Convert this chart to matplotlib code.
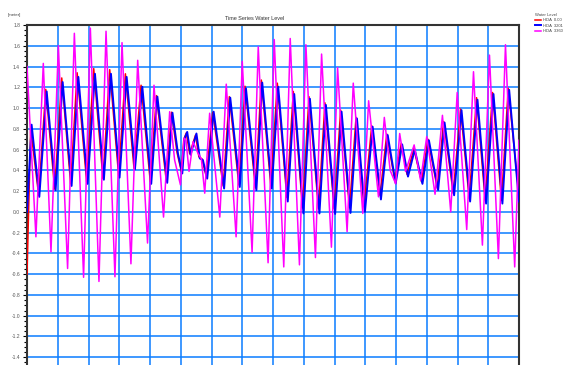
import matplotlib
matplotlib.use("Agg")
import matplotlib.pyplot as plt
from matplotlib.ticker import MultipleLocator, FixedLocator, FormatStrFormatter

plt.rcParams['font.family'] = ['Liberation Sans', 'DejaVu Sans']

# time in days, water level in meters (peaks / troughs)
red_t = [0.00, 0.12, 0.38, 0.61, 0.90, 1.13, 1.42, 1.63, 1.94, 2.17, 2.47, 2.69, 2.98, 3.20,
         3.48, 3.71, 4.01, 4.21, 4.53, 4.70, 4.88, 5.02, 5.10, 5.18, 5.29, 5.48, 5.59, 5.69,
         5.83, 6.04, 6.38, 6.58, 6.89, 7.09, 7.43, 7.62, 7.93, 8.14, 8.45, 8.66, 8.96, 9.17,
         9.48, 9.69, 9.99, 10.20, 10.49, 10.70, 10.96, 11.21, 11.48, 11.70, 11.96, 12.17,
         12.36, 12.58, 12.83, 13.04, 13.34, 13.55, 13.86, 14.10, 14.38, 14.62, 14.90, 15.14,
         15.43, 15.65, 16.00]
red_v = [-0.60, 0.80, 0.16, 1.18, 0.22, 1.29, 0.27, 1.34, 0.29, 1.38, 0.32, 1.37, 0.35, 1.33,
         0.42, 1.22, 0.29, 1.12, 0.30, 0.96, 0.57, 0.39, 0.70, 0.76, 0.56, 0.74, 0.53, 0.51,
         0.34, 0.96, 0.25, 1.11, 0.26, 1.21, 0.23, 1.27, 0.25, 1.24, 0.14, 1.16, 0.04, 1.11,
         0.03, 1.05, 0.03, 0.98, 0.04, 0.91, 0.05, 0.83, 0.16, 0.75, 0.30, 0.66,
         0.36, 0.61, 0.29, 0.70, 0.23, 0.87, 0.18, 0.99, 0.13, 1.10, 0.11, 1.15,
         0.11, 1.19, 0.15]

blue_t = [0.00, 0.15, 0.40, 0.64, 0.93, 1.16, 1.45, 1.67, 1.97, 2.21, 2.50, 2.73, 3.01, 3.24,
          3.51, 3.75, 4.04, 4.24, 4.56, 4.73, 4.91, 5.05, 5.13, 5.21, 5.32, 5.51, 5.62, 5.72,
          5.86, 6.07, 6.41, 6.61, 6.92, 7.12, 7.46, 7.65, 7.96, 8.17, 8.48, 8.69, 8.99, 9.20,
          9.51, 9.72, 10.02, 10.23, 10.52, 10.73, 10.99, 11.24, 11.51, 11.73, 11.99, 12.20,
          12.39, 12.61, 12.86, 13.07, 13.37, 13.58, 13.89, 14.13, 14.41, 14.65, 14.93, 15.17,
          15.46, 15.68, 16.00]
blue_v = [0.00, 0.84, 0.145, 1.16, 0.21, 1.25, 0.25, 1.30, 0.27, 1.33, 0.31, 1.33, 0.33, 1.30,
          0.41, 1.205, 0.27, 1.11, 0.28, 0.955, 0.56, 0.37, 0.71, 0.77, 0.55, 0.755, 0.515, 0.50,
          0.32, 0.965, 0.225, 1.10, 0.24, 1.19, 0.21, 1.245, 0.225, 1.205, 0.10, 1.135, -0.015, 1.09,
          -0.015, 1.03, -0.02, 0.965, -0.01, 0.90, 0.00, 0.82, 0.12, 0.74, 0.275, 0.65,
          0.34, 0.60, 0.27, 0.69, 0.21, 0.86, 0.16, 0.98, 0.10, 1.08, 0.08, 1.135,
          0.08, 1.175, 0.10]

mag_t = [0.00, 0.29, 0.53, 0.78, 1.02, 1.32, 1.54, 1.84, 2.06, 2.34, 2.57, 2.86, 3.09, 3.38,
         3.60, 3.92, 4.13, 4.44, 4.64, 4.80, 4.99, 5.11, 5.17, 5.27, 5.40, 5.56, 5.67, 5.78,
         5.94, 6.27, 6.48, 6.80, 7.00, 7.32, 7.52, 7.84, 8.04, 8.35, 8.56, 8.86, 9.07, 9.38,
         9.58, 9.90, 10.10, 10.41, 10.61, 10.92, 11.11, 11.43, 11.62, 11.81, 11.99, 12.12,
         12.31, 12.59, 12.80, 13.00, 13.27, 13.51, 13.78, 13.99, 14.30, 14.52, 14.81, 15.04,
         15.33, 15.56, 15.86, 16.00]
mag_v = [1.40, -0.24, 1.43, -0.385, 1.60, -0.545, 1.72, -0.63, 1.77, -0.67, 1.74, -0.625, 1.63, -0.50,
         1.46, -0.30, 1.22, -0.05, 0.965, 0.50, 0.26, 0.71, 0.69, 0.39, 0.675, 0.565, 0.51, 0.18,
         0.95, -0.05, 1.23, -0.24, 1.45, -0.39, 1.59, -0.49, 1.66, -0.53, 1.67, -0.51, 1.61, -0.44,
         1.52, -0.34, 1.39, -0.19, 1.24, -0.015, 1.07, 0.145, 0.91, 0.40, 0.27, 0.755,
         0.39, 0.645, 0.305, 0.725, 0.17, 0.93, 0.00, 1.15, -0.17, 1.35, -0.32, 1.51,
         -0.45, 1.61, -0.53, 0.69]

labels = ["HDA  0.00", "HDA  3201", "HDA  3360"]
colors = ["#ff0000", "#0000ff", "#ff00ff"]
y_ticks = [-1.4, -1.2, -1.0, -0.8, -0.6, -0.4, -0.2, 0.0, 0.2, 0.4, 0.6, 0.8,
           1.0, 1.2, 1.4, 1.6, 1.8]

W, H = 564, 365
fig = plt.figure(figsize=(W / 100, H / 100), dpi=100)
# axes runs past the bottom edge of the picture (x labels are cut off)
ax = fig.add_axes([27 / W, 1 - 378 / H, (519 - 27) / W, (378 - 25) / H])

ax.plot(red_t, red_v, color=colors[0], lw=1.1, label=labels[0], zorder=3)
ax.plot(blue_t, blue_v, color=colors[1], lw=1.4, label=labels[1], zorder=4)
ax.plot(mag_t, mag_v, color=colors[2], lw=1.1, label=labels[2], zorder=5)

ax.set_xlim(0, 16)
ax.set_ylim(-1.6, 1.8)
ax.xaxis.set_major_locator(MultipleLocator(1))
ax.yaxis.set_major_locator(FixedLocator(y_ticks))
ax.yaxis.set_minor_locator(MultipleLocator(0.05))
ax.yaxis.set_major_formatter(FormatStrFormatter('%.1f'))
ax.grid(True, which='major', color='#0a7cff', lw=1.1, zorder=1)
ax.axhline(-1.6, color='#0a7cff', lw=1.1, zorder=1)
ax.tick_params(axis='x', labelbottom=False, length=0)
ax.tick_params(axis='y', which='major', length=3, width=0.8, labelsize=3.6,
               labelcolor='#555555', pad=2)
ax.tick_params(axis='y', which='minor', length=2, width=0.8)

for side in ['left', 'top', 'right']:
    ax.spines[side].set_color('#333333')
    ax.spines[side].set_linewidth(1.5)
ax.spines['bottom'].set_visible(False)

fig.text(8 / W, 1 - 15 / H, "[meter]", fontsize=3.2, color='#444444', va='center')
fig.text(255 / W, 1 - 18 / H, "Time Series Water Level", fontsize=4.0,
         color='#333333', ha='center', va='center')

leg = ax.legend(loc='upper left', bbox_to_anchor=(532 / W, 1 - 10 / H),
                bbox_transform=fig.transFigure, frameon=False, fontsize=3.0,
                title="Water Level", title_fontsize=3.0, handlelength=1.4,
                handletextpad=0.5, labelspacing=0.35, borderpad=0.2)
leg._legend_box.align = "left"
for t in leg.get_texts():
    t.set_color('#444444')
leg.get_title().set_color('#444444')

fig.savefig("out.png", dpi=100)
